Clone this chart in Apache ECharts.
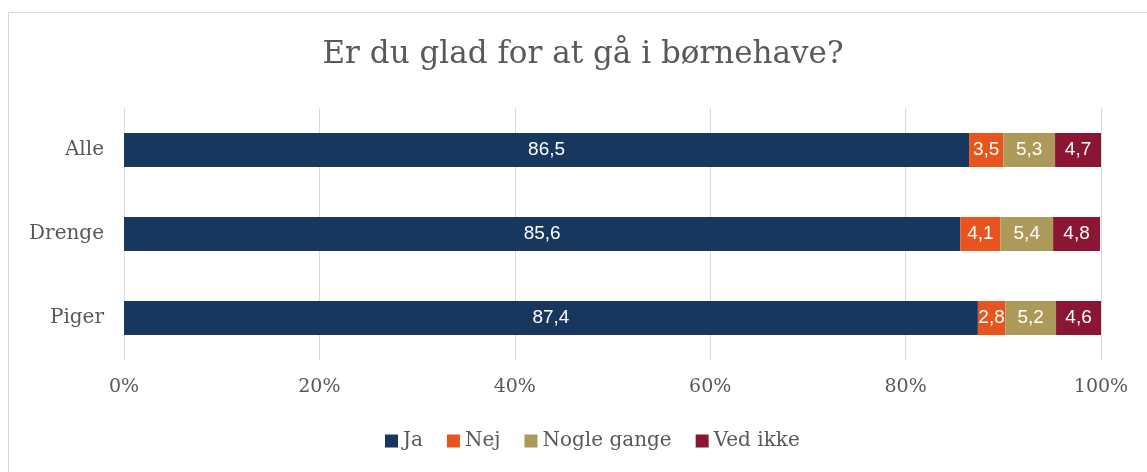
<!DOCTYPE html>
<html>
<head>
<meta charset="utf-8">
<script src="https://cdn.jsdelivr.net/npm/echarts@6/dist/echarts.min.js"></script>
<style>
  html, body { margin: 0; padding: 0; background: #fff; }
  #frame { position: absolute; left: 8px; top: 12px; width: 1200px; height: 520px;
           border-top: 1px solid #d9d9d9; border-left: 1px solid #d9d9d9; }
  #chart { position: absolute; left: 0; top: 0; width: 1147px; height: 472px; }
</style>
</head>
<body>
<div id="frame"></div>
<div id="chart"></div>
<script>
const groups = ["Alle", "Drenge", "Piger"];
const ja = [86.5, 85.6, 87.4];
const nej = [3.5, 4.1, 2.8];
const nogleGange = [5.3, 5.4, 5.2];
const vedIkke = [4.7, 4.8, 4.6];
const xTicks = [0, 20, 40, 60, 80, 100];

const serif = "'DejaVu Serif', Georgia, serif";
const sans = "'Liberation Sans', Arial, sans-serif";

const chart = echarts.init(document.getElementById("chart"));

const makeSeries = (name, data, color) => ({
  name: name,
  type: "bar",
  stack: "total",
  barWidth: 34,
  data: data,
  itemStyle: { color: color },
  label: {
    show: true,
    position: "inside",
    color: "#fff",
    fontFamily: sans,
    fontSize: 19,
    formatter: (p) => String(p.value).replace(".", ",")
  },
  emphasis: { disabled: true }
});

const options = {
  animation: false,
  title: {
    text: "Er du glad for at gå i børnehave?",
    left: 578,
    textAlign: "center",
    top: 34,
    textStyle: {
      fontFamily: serif,
      fontWeight: "normal",
      fontSize: 31,
      color: "#595959"
    }
  },
  legend: {
    bottom: 16,
    left: 380,
    itemWidth: 13,
    itemHeight: 13,
    itemGap: 24,
    icon: "rect",
    textStyle: { fontFamily: serif, fontSize: 20, color: "#595959", padding: [0, 0, 0, 0] },
    data: ["Ja", "Nej", "Nogle gange", "Ved ikke"]
  },
  grid: { left: 124, right: 46, top: 108, bottom: 112, containLabel: false },
  xAxis: {
    type: "value",
    min: xTicks[0],
    max: xTicks[xTicks.length - 1],
    interval: 20,
    axisLine: { show: false },
    axisTick: { show: false },
    splitLine: { lineStyle: { color: "#d9d9d9", width: 1 } },
    axisLabel: {
      margin: 18,
      fontFamily: serif,
      fontSize: 19,
      color: "#595959",
      formatter: (v) => v + "%"
    }
  },
  yAxis: {
    type: "category",
    inverse: true,
    data: groups,
    axisLine: { show: false },
    axisTick: { show: false },
    axisLabel: {
      margin: 20,
      fontFamily: serif,
      fontSize: 20,
      color: "#595959"
    }
  },
  series: [
    makeSeries("Ja", ja, "#17375e"),
    makeSeries("Nej", nej, "#e8541e"),
    makeSeries("Nogle gange", nogleGange, "#ad9a5b"),
    makeSeries("Ved ikke", vedIkke, "#8b1634")
  ]
};

chart.setOption(options);
</script>
</body>
</html>
